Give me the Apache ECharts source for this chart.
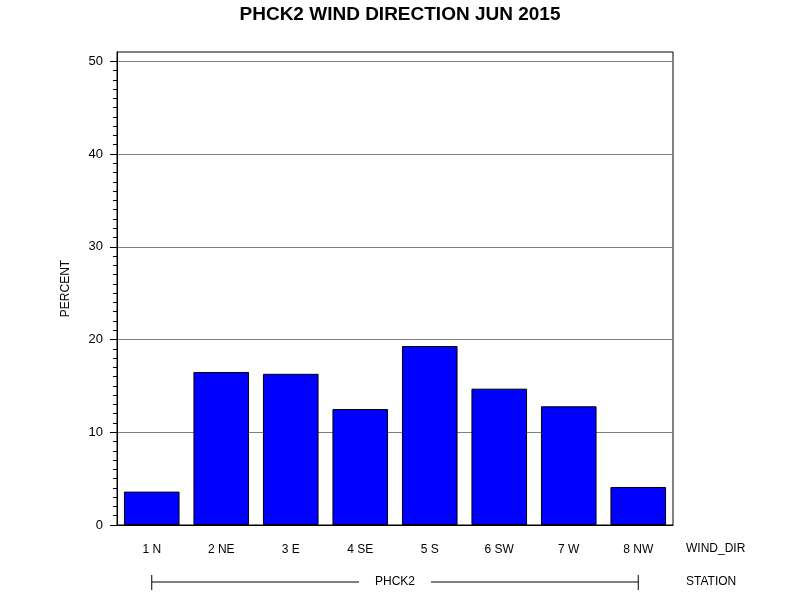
<!DOCTYPE html>
<html>
<head>
<meta charset="utf-8">
<script src="https://cdn.jsdelivr.net/npm/echarts@6/dist/echarts.min.js"></script>
<style>
  html, body { margin: 0; padding: 0; background: #fff; }
  #chart { width: 800px; height: 600px; }
</style>
</head>
<body>
<div id="chart"></div>
<script>
// 风向分类和百分比
const windDirs = ['1 N', '2 NE', '3 E', '4 SE', '5 S', '6 SW', '7 W', '8 NW'];
const percents = [3.6, 16.5, 16.3, 12.5, 19.3, 14.7, 12.8, 4.1];
const yTicks = [0, 10, 20, 30, 40, 50];
const stationName = 'PHCK2';
const yMax = 51;

// 小刻度每 1 个单位
const yMinorTicks = [];
for (let v = 0; v <= 50; v++) yMinorTicks.push(v);

const font = 'Liberation Sans, Arial, sans-serif';

const chart = echarts.init(document.getElementById('chart'));

const option = {
    backgroundColor: '#fff',
    animation: false,
    title: {
        text: 'PHCK2 WIND DIRECTION JUN 2015',
        left: 'center',
        top: 0,
        textStyle: { fontFamily: font, fontSize: 19, fontWeight: 'bold', color: '#000' }
    },
    grid: {
        left: 117,
        right: 127,
        top: 52,
        bottom: 75,
        show: true,
        borderColor: '#000',
        borderWidth: 1
    },
    xAxis: {
        type: 'category',
        data: windDirs,
        axisLine: { lineStyle: { color: '#000', width: 1 } },
        axisTick: { show: false },
        axisLabel: { color: '#000', fontFamily: font, fontSize: 12, margin: 19 }
    },
    yAxis: [
        {
            // 小刻度
            type: 'value',
            min: 0,
            max: yMax,
            axisLine: { show: true, lineStyle: { color: '#000' } },
            axisTick: { show: true, length: 4, customValues: yMinorTicks, lineStyle: { color: '#000' } },
            axisLabel: { show: false },
            splitLine: { show: false }
        },
        {
            // 主刻度和网格
            type: 'value',
            min: 0,
            max: yMax,
            position: 'left',
            name: 'PERCENT',
            nameLocation: 'middle',
            nameGap: 45,
            nameTextStyle: { color: '#000', fontFamily: font, fontSize: 12 },
            axisLine: { show: true, lineStyle: { color: '#000' } },
            axisTick: { show: true, length: 7, customValues: yTicks, lineStyle: { color: '#000' } },
            axisLabel: {
                color: '#000', fontFamily: font, fontSize: 13, margin: 14,
                customValues: yTicks
            },
            splitLine: { show: true, lineStyle: { color: '#808080', width: 1 } }
        }
    ],
    series: [{
        type: 'bar',
        data: percents,
        yAxisIndex: 0,
        barCategoryGap: '20%',
        itemStyle: { color: '#0000ff', borderColor: '#000', borderWidth: 1 }
    }]
};

chart.setOption(option);

// 站点括号线，从第一个到最后一个类别中心
const x0 = chart.convertToPixel({ xAxisIndex: 0 }, windDirs[0]);
const x1 = chart.convertToPixel({ xAxisIndex: 0 }, windDirs[windDirs.length - 1]);
const xm = (x0 + x1) / 2;
const yLine = 582;
const gapHalf = 36;
const labelX = 686;

chart.setOption({
    graphic: [
        { type: 'line', shape: { x1: x0, y1: yLine, x2: xm - gapHalf, y2: yLine }, style: { stroke: '#000', lineWidth: 1 } },
        { type: 'line', shape: { x1: xm + gapHalf, y1: yLine, x2: x1, y2: yLine }, style: { stroke: '#000', lineWidth: 1 } },
        { type: 'line', shape: { x1: x0, y1: yLine - 7, x2: x0, y2: yLine + 8 }, style: { stroke: '#000', lineWidth: 1 } },
        { type: 'line', shape: { x1: x1, y1: yLine - 7, x2: x1, y2: yLine + 8 }, style: { stroke: '#000', lineWidth: 1 } },
        {
            type: 'text', x: xm, y: yLine,
            style: { text: stationName, fill: '#000', font: '12px ' + font, textAlign: 'center', textVerticalAlign: 'middle' }
        },
        {
            type: 'text', x: labelX, y: 549,
            style: { text: 'WIND_DIR', fill: '#000', font: '12px ' + font, textAlign: 'left', textVerticalAlign: 'middle' }
        },
        {
            type: 'text', x: labelX, y: yLine,
            style: { text: 'STATION', fill: '#000', font: '12px ' + font, textAlign: 'left', textVerticalAlign: 'middle' }
        }
    ]
});

window.addEventListener('resize', () => {
    chart.resize();
});
</script>
</body>
</html>
